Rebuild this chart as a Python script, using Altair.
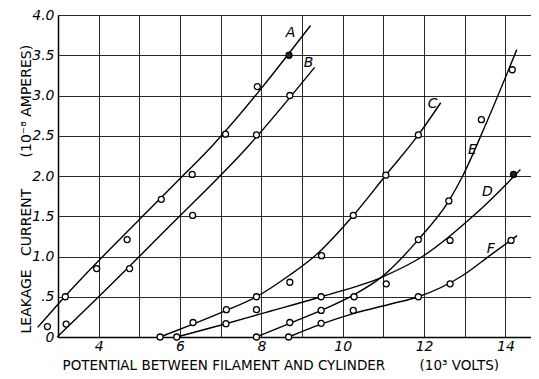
import altair as alt
import pandas as pd

# ---- curve traces (x in 10^3 volts, y in 10^-8 amperes) ----
A_x = [2.50, 3.11, 5.77, 6.80, 9.21]
A_y = [0.12, 0.47, 1.85, 2.38, 3.87]
B_x = [2.98, 4.00, 5.77, 7.66, 9.31]
B_y = [0.00, 0.50, 1.39, 2.36, 3.35]
C_x = [5.51, 6.32, 7.14, 7.88, 8.70, 9.30, 10.26, 11.06, 11.86, 12.41]
C_y = [0.00, 0.16, 0.33, 0.50, 0.77, 1.00, 1.51, 2.01, 2.51, 2.91]
D_x = [5.92, 7.13, 8.00, 9.47, 10.97, 11.96, 13.18, 14.20, 14.37]
D_y = [0.00, 0.165, 0.29, 0.50, 0.745, 1.00, 1.49, 1.99, 2.08]
E_x = [7.88, 8.70, 9.47, 10.26, 10.97, 11.86, 12.61, 12.95, 13.50, 14.28]
E_y = [0.00, 0.17, 0.33, 0.52, 0.75, 1.21, 1.69, 2.00, 2.62, 3.57]
F_x = [8.67, 9.47, 10.26, 11.18, 11.86, 12.97, 13.64, 14.29]
F_y = [0.00, 0.16, 0.29, 0.41, 0.50, 0.77, 1.02, 1.26]

# ---- observed points ----
pt_x = [2.74, 3.18, 3.95, 4.70, 5.54, 6.30, 7.12, 7.90,
        3.20, 4.76, 6.31, 7.88, 8.70,
        5.51, 5.92, 6.32, 7.14, 7.88, 8.70, 9.48, 10.26, 11.06, 11.86,
        7.13, 7.88, 9.47, 12.64,
        7.88, 8.70, 9.47, 10.28, 11.86, 12.61, 13.41, 14.17,
        8.67, 9.47, 10.26, 11.07, 11.86, 12.64, 14.14]
pt_y = [0.13, 0.50, 0.85, 1.21, 1.71, 2.02, 2.52, 3.11,
        0.16, 0.85, 1.51, 2.51, 3.00,
        0.00, 0.00, 0.18, 0.34, 0.50, 0.68, 1.01, 1.51, 2.01, 2.51,
        0.165, 0.34, 0.50, 1.20,
        0.00, 0.18, 0.33, 0.50, 1.21, 1.69, 2.70, 3.32,
        0.00, 0.17, 0.33, 0.66, 0.50, 0.66, 1.20]
solid_x = [8.68, 14.20]
solid_y = [3.50, 2.02]

# ---- curve labels ----
lab_text = ["A", "B", "C", "D", "E", "F"]
lab_x = [8.72, 9.16, 12.21, 13.56, 13.19, 13.64]
lab_y = [3.78, 3.40, 2.89, 1.80, 2.32, 1.09]

x_ticks = list(range(3, 15))
y_ticks = [0, 0.5, 1.0, 1.5, 2.0, 2.5, 3.0, 3.5, 4.0]

rows = []
for name, xs, ys in [("A", A_x, A_y), ("B", B_x, B_y), ("C", C_x, C_y),
                     ("D", D_x, D_y), ("E", E_x, E_y), ("F", F_x, F_y)]:
    for i, (xv, yv) in enumerate(zip(xs, ys)):
        rows.append({"curve": name, "x": xv, "y": yv, "o": i})
curves = pd.DataFrame(rows)
points = pd.DataFrame({"x": pt_x, "y": pt_y})
solids = pd.DataFrame({"x": solid_x, "y": solid_y})
labels = pd.DataFrame({"t": lab_text, "x": lab_x, "y": lab_y})

FONT = "DejaVu Sans"
nb = "\u00a0"
x_title = "POTENTIAL BETWEEN FILAMENT AND CYLINDER" + nb * 8 + "(10³" + nb + "VOLTS)"
y_title = "LEAKAGE" + nb * 3 + "CURRENT" + nb * 7 + "(10⁻⁸" + nb + "AMPERES)"

xs = alt.Scale(domain=[3, 14.63], nice=False, zero=False)
ys = alt.Scale(domain=[0, 4], nice=False, zero=True)

x_axis = alt.Axis(values=x_ticks, grid=True, ticks=False,
                  labelExpr="datum.value % 2 == 0 ? datum.label : ''",
                  labelFont=FONT, labelFontStyle="italic", labelFontSize=14,
                  labelColor="black", labelPadding=2,
                  gridColor="#111", gridWidth=0.9, gridOpacity=1,
                  domainColor="black", domainWidth=1.5,
                  title=x_title, titleFont=FONT, titleFontSize=13.5,
                  titleFontWeight="normal", titleColor="black",
                  titleAnchor="start", titleAlign="left", titleX=4, titleY=32,
                  titleBaseline="alphabetic")
y_axis = alt.Axis(values=y_ticks, grid=True, ticks=False,
                  labelExpr="datum.value == 0 ? '0' : (datum.value == 0.5 ? '.5' : format(datum.value, '.1f'))",
                  labelFont=FONT, labelFontStyle="italic", labelFontSize=14,
                  labelColor="black", labelPadding=4,
                  gridColor="#111", gridWidth=0.9, gridOpacity=1,
                  domainColor="black", domainWidth=1.5,
                  title=y_title, titleFont=FONT, titleFontSize=14,
                  titleFontWeight="normal", titleColor="black",
                  titleAngle=270, titleAlign="left", titleBaseline="middle",
                  titleX=-32, titleY=318)

lines = alt.Chart(curves).mark_line(color="black", strokeWidth=1.4,
                                    interpolate="monotone").encode(
    x=alt.X("x:Q", scale=xs, axis=x_axis),
    y=alt.Y("y:Q", scale=ys, axis=y_axis),
    detail="curve:N",
    order="o:Q",
)
pts = alt.Chart(points).mark_point(shape="circle", filled=True, fill="white",
                                   stroke="black", strokeWidth=1.3, size=36,
                                   opacity=1).encode(
    x=alt.X("x:Q", scale=xs), y=alt.Y("y:Q", scale=ys))
spts = alt.Chart(solids).mark_point(shape="circle", filled=True, fill="#222",
                                    stroke="black", strokeWidth=1.3, size=36,
                                    opacity=1).encode(
    x=alt.X("x:Q", scale=xs), y=alt.Y("y:Q", scale=ys))
txt = alt.Chart(labels).mark_text(font=FONT, fontStyle="italic", fontSize=14,
                                  color="black").encode(
    x=alt.X("x:Q", scale=xs), y=alt.Y("y:Q", scale=ys), text="t:N")

chart = alt.layer(lines, pts, spts, txt).properties(
    width=473, height=322,
    autosize=alt.AutoSizeParams(type="none"),
    padding={"left": 50, "top": 7, "right": 0, "bottom": 34},
    background="white",
).configure_view(stroke="transparent")

chart.save("out.html", embed_options={"renderer": "svg", "actions": False})
